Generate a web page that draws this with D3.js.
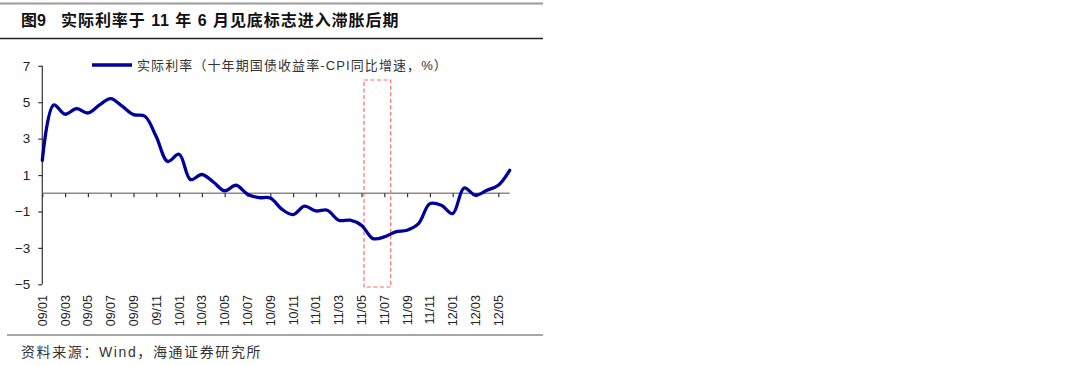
<!DOCTYPE html>
<html><head><meta charset="utf-8">
<script src="https://cdn.jsdelivr.net/npm/d3@7"></script>
<style>
body{margin:0;background:#fff;}
svg{display:block;}
</style></head>
<body>
<svg id="c" width="1080" height="365"></svg>
<script>
const months = [];
for (let y = 9; y <= 12; y++) for (let m = 1; m <= 12; m++) {
  if (y === 12 && m > 6) break;
  months.push(String(y).padStart(2,"0") + "/" + String(m).padStart(2,"0"));
}
const realRate = [1.8, 4.85, 4.34, 4.65, 4.41, 4.84, 5.2, 4.78, 4.32, 4.23, 3.1, 1.75,
  2.14, 0.75, 1.03, 0.62, 0.13, 0.44, -0.05, -0.24, -0.26, -0.87, -1.17, -0.71,
  -0.97, -0.93, -1.48, -1.48, -1.76, -2.49, -2.4, -2.12, -2.03, -1.67, -0.57, -0.66,
  -1.12, 0.29, -0.11, 0.16, 0.44, 1.26];
const yTicks = [7, 5, 3, 1, -1, -3, -5];
const tickLabels = months.filter((d, i) => i % 2 === 0);
const highlight = ["11/05", "11/08"];
const titleNo = "图9";
const title = "实际利率于 11 年 6 月见底标志进入滞胀后期";
const legendLabel = "实际利率（十年期国债收益率-CPI同比增速，%）";
const source = "资料来源：Wind，海通证券研究所";

const svg = d3.select("#c");
const cjk = "'Liberation Sans', Arial, 'Noto Sans CJK SC', sans-serif";

// header rules
svg.append("line").attr("x1",0).attr("x2",543).attr("y1",3.5).attr("y2",3.5).attr("stroke","#9a9a9a").attr("stroke-width",2);
svg.append("text").attr("x",21).attr("y",26).attr("font-family",cjk).attr("font-weight","bold")
  .attr("font-size",16).attr("fill","#111").text(titleNo);
svg.append("text").attr("x",61).attr("y",26).attr("font-family",cjk).attr("font-weight","bold")
  .attr("font-size",16).attr("letter-spacing",0.95).attr("fill","#111").attr("xml:space","preserve").text(title);
svg.append("line").attr("x1",0).attr("x2",543).attr("y1",38.5).attr("y2",38.5).attr("stroke","#222").attr("stroke-width",1.3);

const x = d3.scalePoint().domain(months).range([42.3, 509.7]);
const y = d3.scaleLinear().domain([-5, 7]).range([284.3, 65.8]);

// y axis
const yAxis = d3.axisLeft(y).tickValues(yTicks).tickSize(4).tickFormat(d3.format("d"));
const gy = svg.append("g").attr("transform","translate(42.3,0)").call(yAxis);
gy.select(".domain").attr("stroke","#333").attr("stroke-width",1.2).attr("d","M0,"+y(-5)+"V"+y(7));
gy.selectAll(".tick line").attr("stroke","#333").attr("stroke-width",1.2);
gy.selectAll(".tick text").attr("font-family","'Liberation Sans', Arial, sans-serif").attr("font-size",13.5).attr("fill","#222").attr("x",-12);

// x axis at 0
const xAxis = d3.axisBottom(x).tickValues(tickLabels).tickSize(4).tickFormat("");
const gx = svg.append("g").attr("transform","translate(0,"+y(0)+")").call(xAxis);
gx.select(".domain").attr("stroke","#8a8a8a").attr("stroke-width",1.5).attr("d","M"+x(months[0])+",0H"+x(months[months.length-1]));
gx.selectAll(".tick line").attr("stroke","#333").attr("stroke-width",1.2);

// rotated x labels
svg.append("g").selectAll("text").data(tickLabels).join("text")
  .attr("transform", d => "translate(" + (x(d)+4.5) + ",295) rotate(-90)")
  .attr("text-anchor","end")
  .attr("font-family","'Liberation Sans', Arial, sans-serif").attr("font-size",12.5).attr("fill","#222")
  .text(d => d);

// highlight rectangle
svg.append("rect")
  .attr("x", x(highlight[0]) + 2.5).attr("y", 80)
  .attr("width", x(highlight[1]) - x(highlight[0]) - 7.5).attr("height", 207)
  .attr("fill","none").attr("stroke","#ff6b6b").attr("stroke-width",1.2).attr("stroke-dasharray","4,2.5");

// line
const line = d3.line().x((d,i) => x(months[i])).y(d => y(d)).curve(d3.curveCatmullRom.alpha(0.5));
svg.append("path").datum(realRate).attr("d", line).attr("fill","none")
  .attr("stroke","#00009c").attr("stroke-width",3.3).attr("stroke-linejoin","round").attr("stroke-linecap","round");

// legend
svg.append("line").attr("x1",92).attr("x2",132).attr("y1",65).attr("y2",65).attr("stroke","#00009c").attr("stroke-width",3.5);
svg.append("text").attr("x",137).attr("y",69.5).attr("font-family",cjk).attr("font-size",13).attr("letter-spacing",1.1).attr("fill","#333").text(legendLabel);

// footer
svg.append("line").attr("x1",7).attr("x2",543).attr("y1",335).attr("y2",335).attr("stroke","#8a8a8a").attr("stroke-width",1.3);
svg.append("text").attr("x",21).attr("y",357).attr("font-family",cjk).attr("font-size",14).attr("letter-spacing",1.6).attr("fill","#333").text(source);
</script>
</body></html>
